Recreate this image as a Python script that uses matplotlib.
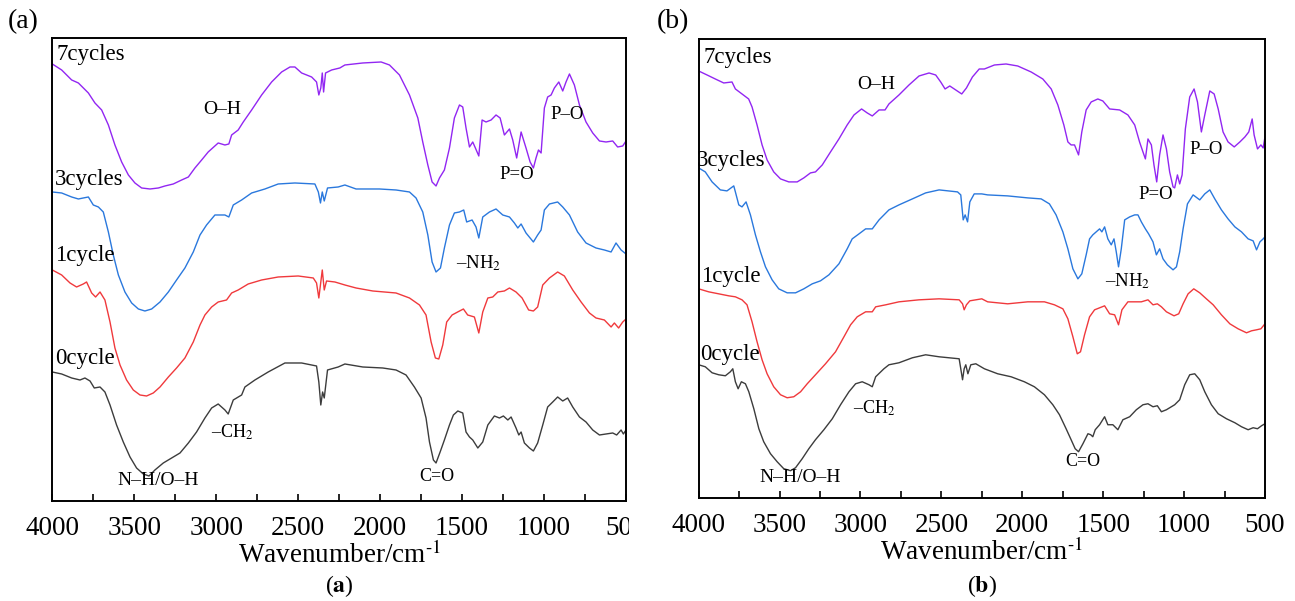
import matplotlib
matplotlib.use("Agg")
import matplotlib.pyplot as plt
from matplotlib.patches import Rectangle
from matplotlib.ticker import MultipleLocator
import numpy as np

plt.rcParams['font.family'] = ['Liberation Serif', 'DejaVu Serif']
plt.rcParams['mathtext.fontset'] = 'stix'

# ---- data: (wavenumber cm-1, transmittance a.u. incl. offset) ----
# panel (a)
a_7 = np.array([
    [4000, 437], [3943, 431], [3882, 421], [3841, 418], [3780, 408], [3740, 398], [3699, 391],
    [3658, 376], [3618, 356], [3577, 339], [3536, 326], [3496, 318], [3455, 313], [3404, 312],
    [3353, 313], [3313, 315], [3262, 317], [3211, 321], [3170, 324], [3130, 333], [3089, 341],
    [3049, 349], [2988, 358], [2947, 356], [2923, 357], [2906, 366], [2866, 371], [2835, 379],
    [2784, 391], [2723, 406], [2662, 419], [2601, 429], [2550, 434], [2520, 434], [2479, 428],
    [2418, 424], [2388, 419], [2374, 406], [2362, 413], [2353, 428], [2345, 409], [2333, 428],
    [2296, 431], [2246, 433], [2215, 436], [2106, 438], [1994, 439], [1943, 436], [1882, 426],
    [1821, 406], [1770, 383], [1740, 359], [1709, 336], [1683, 319], [1659, 315], [1638, 323],
    [1608, 331], [1577, 353], [1547, 383], [1516, 396], [1496, 394], [1476, 373], [1455, 354],
    [1435, 359], [1419, 353], [1398, 345], [1378, 381], [1354, 379], [1323, 381], [1293, 386],
    [1268, 383], [1242, 366], [1211, 372], [1191, 361], [1167, 343], [1140, 369], [1110, 353],
    [1085, 339], [1065, 333], [1049, 343], [1034, 351], [1018, 348], [998, 393], [978, 404],
    [957, 406], [937, 413], [910, 419], [886, 410], [866, 419], [845, 427], [815, 416],
    [784, 396], [744, 379], [703, 368], [662, 360], [622, 359], [581, 360], [551, 354],
    [520, 355], [500, 360]])

a_3 = np.array([
    [4000, 309], [3943, 308], [3882, 304], [3841, 302], [3811, 303], [3780, 304], [3750, 296],
    [3719, 294], [3689, 289], [3658, 269], [3628, 246], [3597, 226], [3557, 209], [3516, 198],
    [3475, 192], [3435, 190], [3394, 192], [3343, 199], [3292, 209], [3242, 221], [3191, 233],
    [3140, 249], [3099, 266], [3059, 276], [3008, 286], [2947, 286], [2923, 284], [2896, 296],
    [2845, 301], [2784, 308], [2703, 312], [2622, 317], [2520, 318], [2398, 317], [2377, 309],
    [2364, 298], [2353, 309], [2341, 300], [2321, 313], [2256, 314], [2215, 316], [2147, 312],
    [2004, 312], [1903, 311], [1821, 309], [1781, 303], [1740, 289], [1709, 266], [1683, 239],
    [1659, 229], [1632, 233], [1608, 253], [1577, 276], [1547, 288], [1516, 289], [1490, 291],
    [1472, 279], [1439, 281], [1415, 274], [1398, 263], [1374, 284], [1333, 289], [1293, 292],
    [1252, 286], [1211, 284], [1181, 278], [1160, 273], [1140, 277], [1110, 268], [1065, 259],
    [1039, 266], [1018, 271], [998, 291], [967, 297], [917, 299], [886, 294], [845, 286],
    [795, 269], [744, 258], [683, 253], [632, 251], [591, 249], [561, 258], [530, 251],
    [500, 247]])

a_1 = np.array([
    [4000, 231], [3943, 226], [3892, 218], [3852, 214], [3811, 217], [3791, 219], [3760, 208],
    [3736, 204], [3709, 209], [3679, 201], [3648, 179], [3618, 153], [3587, 136], [3547, 121],
    [3506, 111], [3465, 106], [3425, 105], [3384, 108], [3343, 114], [3292, 124], [3242, 133],
    [3191, 143], [3140, 159], [3099, 176], [3069, 186], [3028, 194], [2988, 199], [2937, 201],
    [2906, 208], [2866, 211], [2805, 217], [2723, 221], [2622, 224], [2500, 225], [2408, 223],
    [2388, 218], [2374, 203], [2362, 219], [2353, 231], [2341, 211], [2327, 220], [2276, 219],
    [2215, 216], [2147, 213], [2045, 210], [1903, 208], [1821, 203], [1760, 196], [1720, 186],
    [1689, 159], [1663, 143], [1642, 142], [1618, 156], [1594, 179], [1561, 186], [1527, 189],
    [1492, 192], [1466, 186], [1425, 184], [1398, 168], [1374, 189], [1343, 203], [1313, 204],
    [1282, 209], [1242, 210], [1211, 213], [1171, 209], [1134, 203], [1094, 191], [1065, 190],
    [1039, 194], [1008, 216], [967, 223], [917, 229], [876, 225], [825, 211], [774, 199],
    [723, 188], [683, 183], [632, 181], [591, 174], [571, 178], [545, 173], [520, 179],
    [500, 182]])

a_0 = np.array([
    [4000, 129], [3943, 127], [3882, 123], [3831, 121], [3801, 123], [3770, 120], [3744, 113],
    [3709, 114], [3679, 109], [3648, 96], [3608, 76], [3567, 59], [3526, 44], [3486, 33],
    [3445, 27], [3410, 25], [3374, 31], [3323, 38], [3272, 43], [3221, 48], [3170, 58],
    [3120, 69], [3069, 83], [3028, 93], [2988, 97], [2947, 91], [2927, 87], [2896, 101],
    [2845, 106], [2825, 114], [2764, 121], [2683, 129], [2581, 138], [2479, 138], [2388, 135],
    [2374, 119], [2362, 96], [2351, 109], [2341, 103], [2321, 131], [2256, 134], [2215, 137],
    [2106, 134], [1984, 133], [1903, 131], [1842, 126], [1791, 114], [1750, 103], [1720, 83],
    [1699, 59], [1675, 41], [1659, 38], [1634, 49], [1608, 61], [1577, 76], [1553, 86],
    [1526, 90], [1496, 88], [1476, 69], [1455, 64], [1435, 61], [1404, 53], [1374, 59],
    [1343, 76], [1303, 85], [1272, 83], [1248, 85], [1221, 81], [1201, 84], [1171, 73],
    [1154, 66], [1140, 69], [1120, 58], [1089, 53], [1065, 50], [1039, 58], [1008, 76],
    [978, 94], [947, 99], [917, 104], [886, 100], [856, 103], [825, 94], [784, 84],
    [744, 79], [703, 71], [662, 66], [622, 67], [581, 68], [557, 66], [530, 71], [516, 67],
    [500, 71]])

# panel (b)
b_7 = np.array([
    [4000, 427], [3948, 423], [3897, 419], [3845, 415], [3794, 416], [3773, 409], [3732, 404],
    [3691, 399], [3670, 391], [3639, 373], [3608, 353], [3577, 338], [3536, 326], [3494, 319],
    [3443, 316], [3391, 316], [3350, 320], [3309, 325], [3278, 326], [3236, 333], [3185, 346],
    [3133, 359], [3082, 373], [3040, 383], [2993, 389], [2958, 385], [2927, 382], [2885, 388],
    [2848, 388], [2824, 394], [2762, 403], [2700, 413], [2638, 422], [2576, 425], [2535, 423],
    [2504, 416], [2477, 409], [2448, 412], [2411, 408], [2374, 404], [2345, 410], [2308, 421],
    [2266, 429], [2234, 429], [2172, 433], [2100, 434], [2028, 432], [1945, 426], [1873, 419],
    [1821, 409], [1780, 393], [1743, 373], [1718, 356], [1698, 353], [1677, 353], [1652, 343],
    [1632, 366], [1605, 388], [1574, 396], [1533, 399], [1502, 397], [1460, 389], [1398, 388],
    [1347, 383], [1305, 373], [1275, 356], [1254, 346], [1239, 339], [1223, 359], [1202, 353],
    [1186, 333], [1169, 316], [1151, 343], [1130, 363], [1109, 349], [1089, 326], [1068, 311],
    [1058, 310], [1041, 323], [1027, 314], [1012, 323], [992, 369], [965, 401], [938, 409],
    [917, 396], [893, 366], [872, 383], [841, 407], [814, 404], [789, 389], [759, 366],
    [728, 356], [690, 351], [655, 356], [624, 361], [600, 366], [579, 379], [567, 363],
    [546, 349], [525, 353], [511, 350], [500, 361]])

b_3 = np.array([
    [4000, 330], [3959, 326], [3917, 316], [3866, 308], [3825, 307], [3783, 312], [3773, 306],
    [3752, 293], [3732, 291], [3707, 296], [3680, 283], [3649, 263], [3618, 246], [3587, 231],
    [3546, 218], [3505, 209], [3453, 205], [3401, 205], [3350, 209], [3298, 214], [3247, 217],
    [3195, 223], [3133, 234], [3082, 249], [3051, 259], [3009, 264], [2968, 269], [2927, 269],
    [2885, 278], [2824, 288], [2762, 293], [2679, 299], [2597, 305], [2514, 308], [2400, 306],
    [2380, 303], [2365, 278], [2353, 283], [2338, 276], [2324, 296], [2297, 304], [2250, 304],
    [2214, 303], [2090, 302], [1966, 300], [1883, 299], [1832, 294], [1791, 283], [1749, 266],
    [1718, 249], [1687, 229], [1656, 219], [1632, 224], [1605, 243], [1584, 259], [1564, 263],
    [1543, 266], [1522, 269], [1508, 266], [1491, 271], [1471, 259], [1450, 253], [1433, 259],
    [1419, 246], [1405, 231], [1388, 249], [1367, 278], [1336, 281], [1305, 283], [1285, 283],
    [1264, 276], [1239, 269], [1219, 264], [1192, 256], [1171, 243], [1151, 249], [1130, 239],
    [1103, 233], [1068, 228], [1047, 231], [1027, 246], [1006, 269], [979, 294], [944, 303],
    [903, 298], [872, 304], [841, 308], [810, 299], [769, 288], [728, 279], [686, 271],
    [645, 266], [604, 259], [573, 257], [552, 248], [531, 256], [511, 259], [500, 261]])

b_1 = np.array([
    [4000, 209], [3938, 206], [3876, 204], [3814, 202], [3773, 201], [3732, 198], [3701, 193],
    [3670, 176], [3639, 156], [3608, 138], [3577, 124], [3536, 111], [3494, 103], [3453, 100],
    [3412, 101], [3370, 106], [3329, 114], [3278, 123], [3216, 134], [3154, 146], [3102, 161],
    [3061, 173], [3020, 181], [2968, 186], [2927, 186], [2906, 191], [2844, 193], [2762, 196],
    [2638, 198], [2514, 199], [2390, 198], [2369, 194], [2359, 188], [2345, 193], [2324, 197],
    [2287, 198], [2250, 199], [2214, 196], [2090, 194], [1966, 196], [1863, 196], [1801, 193],
    [1749, 189], [1718, 179], [1687, 161], [1660, 144], [1640, 146], [1615, 163], [1584, 181],
    [1553, 188], [1522, 190], [1491, 192], [1460, 184], [1429, 183], [1405, 173], [1384, 188],
    [1347, 196], [1305, 196], [1264, 196], [1223, 198], [1192, 193], [1165, 194], [1140, 191],
    [1109, 186], [1062, 182], [1033, 184], [1006, 194], [975, 204], [940, 209], [903, 205],
    [862, 199], [820, 193], [769, 183], [717, 174], [666, 169], [614, 165], [583, 167],
    [552, 168], [525, 169], [500, 174]])

b_0 = np.array([
    [4000, 133], [3959, 131], [3917, 125], [3876, 123], [3835, 122], [3804, 126], [3789, 129],
    [3773, 116], [3756, 109], [3736, 116], [3711, 114], [3690, 106], [3659, 89], [3628, 69],
    [3598, 56], [3556, 44], [3515, 36], [3474, 29], [3432, 27], [3401, 30], [3360, 39],
    [3319, 49], [3278, 58], [3226, 68], [3174, 79], [3123, 93], [3071, 106], [3030, 114],
    [2989, 116], [2947, 113], [2927, 111], [2906, 121], [2855, 129], [2824, 133], [2762, 135],
    [2679, 140], [2597, 143], [2514, 141], [2390, 139], [2380, 129], [2369, 118], [2359, 129],
    [2349, 133], [2336, 124], [2318, 133], [2287, 134], [2234, 129], [2152, 124], [2069, 121],
    [1987, 116], [1925, 111], [1863, 103], [1811, 93], [1770, 83], [1729, 69], [1698, 58],
    [1673, 49], [1652, 46], [1625, 54], [1594, 64], [1577, 63], [1564, 61], [1549, 68],
    [1522, 73], [1491, 81], [1471, 73], [1440, 73], [1409, 68], [1378, 78], [1336, 81],
    [1295, 88], [1254, 93], [1223, 94], [1192, 91], [1165, 92], [1140, 86], [1109, 88],
    [1058, 93], [1027, 98], [996, 113], [965, 123], [934, 124], [903, 118], [872, 106],
    [831, 93], [789, 84], [738, 79], [686, 75], [645, 71], [604, 68], [573, 70], [546, 69],
    [521, 72], [500, 74]])

names = ['7cycles', '3cycles', '1cycle', '0cycle']
colors = ['#9226f2', '#2a78dd', '#f0393c', '#3c3c3c']

fig = plt.figure(figsize=(12.95, 6.01), dpi=100)
ax1 = fig.add_axes([0.0404, 0.1664, 0.4430, 0.7704])
ax2 = fig.add_axes([0.5395, 0.1719, 0.4373, 0.7632])

panels = [
    (ax1, [a_7, a_3, a_1, a_0], 463,
     [(3975, 446), (3984, 321), (3984, 245), (3984, 142)],
     [('O–H', 2965, 391, 14), ('P=O', 1166, 326, 13.5), ('P–O', 862, 386, 13.5),
      ('–NH$_2$', 1398, 238, 13.5), ('–CH$_2$', 2904, 69, 13), ('N–H/O–H', 3355, 20, 14),
      ('C=O', 1654, 24, 13)]),
    (ax2, [b_7, b_3, b_1, b_0], 459,
     [(3967, 440), (4008, 337), (3985, 221), (3990, 143)],
     [('O–H', 2902, 413, 14), ('P=O', 1175, 303, 13.5), ('P–O', 864, 348, 13.5),
      ('–NH$_2$', 1347, 217, 13.5), ('–CH$_2$', 2914, 89, 13), ('N–H/O–H', 3373, 20, 14),
      ('C=O', 1627, 36, 13)]),
]

for ax, series, ytop, name_pos, notes in panels:
    for d, c in zip(series, colors):
        ax.plot(d[:, 0], d[:, 1], color=c, lw=1.0)
    for nm, (x, y) in zip(names, name_pos):
        ax.text(x, y, nm, fontsize=16.5, ha='left', va='center')
    for txt, x, y, fs in notes:
        ax.text(x, y, txt, fontsize=fs, ha='center', va='center')
    ax.set_xlim(4000, 500)
    ax.set_ylim(0, ytop)
    ax.set_yticks([])
    ax.xaxis.set_major_locator(MultipleLocator(500))
    ax.xaxis.set_minor_locator(MultipleLocator(250))
    ax.tick_params(axis='x', which='both', direction='in', length=5, width=1.2,
                   labelsize=19.5, pad=11)
    for s in ax.spines.values():
        s.set_linewidth(1.4)
    ax.set_xlabel('Wavenumber/cm$^{\\text{-1}}$', fontsize=19.5, labelpad=0)

# panel (a) tick label "500" is cut off by panel (b) in the original
clip = Rectangle((0, 0), 629 / 1295, 1, transform=fig.transFigure)
for lab in ax1.get_xticklabels():
    lab.set_clip_path(clip)

fig.text(8 / 1295, 1 - 22 / 601, '(a)', fontsize=20, ha='left', va='center')
fig.text(657 / 1295, 1 - 22 / 601, '(b)', fontsize=20, ha='left', va='center')
fig.text(339 / 1295, 1 - 586 / 601, '($\\mathbf{a}$)', fontsize=17, ha='center', va='center')
fig.text(982 / 1295, 1 - 586 / 601, '($\\mathbf{b}$)', fontsize=17, ha='center', va='center')

fig.savefig('out.png', dpi=100)
